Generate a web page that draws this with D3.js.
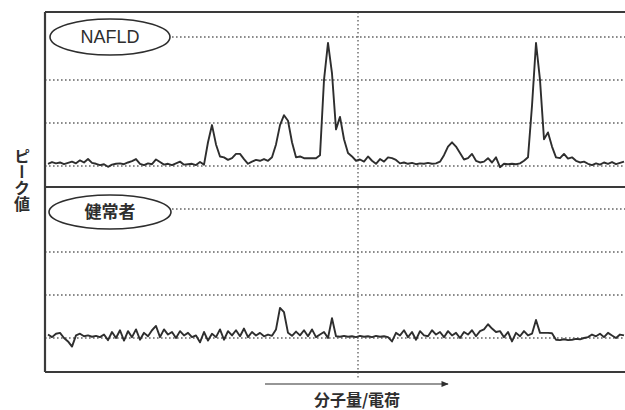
<!DOCTYPE html>
<html>
<head>
<meta charset="utf-8">
<script src="https://cdn.jsdelivr.net/npm/d3@7"></script>
<style>
  body { margin: 0; background: #fff; }
  svg { display: block; font-family: "Liberation Sans", "Noto Sans CJK JP", sans-serif; }
</style>
</head>
<body>
<svg id="chart"></svg>
<script>
// peak values, one sample per step along m/z
const nafld = [
  0.05, 0.09, 0.06, 0.08, 0.04, 0.07, 0.10, 0.06, 0.13, 0.08,
  0.16, 0.07, 0.05, 0.02, 0.04, -0.02, 0.03, 0.05, 0.06, 0.04,
  0.08, 0.11, 0.16, 0.05, 0.02, 0.06, 0.04, 0.15, 0.09, 0.03,
  0.05, 0.02, 0.06, 0.10, 0.03, 0.04, 0.05, 0.02, 0.09, 0.03,
  0.55, 0.95, 0.50, 0.22, 0.20, 0.14, 0.18, 0.28, 0.28, 0.16,
  0.05, 0.10, 0.14, 0.12, 0.16, 0.12, 0.20, 0.50, 0.95, 1.18,
  1.05, 0.55, 0.20, 0.22, 0.18, 0.18, 0.18, 0.18, 0.25, 2.00,
  2.86, 2.15, 0.85, 1.14, 0.62, 0.30, 0.22, 0.12, 0.15, 0.10,
  0.22, 0.12, 0.05, 0.16, 0.10, 0.20, 0.18, 0.14, 0.06, 0.08,
  0.05, 0.07, 0.04, 0.06, 0.05, 0.07, 0.05, 0.06, 0.10, 0.25,
  0.45, 0.55, 0.45, 0.30, 0.15, 0.18, 0.28, 0.12, 0.08, 0.10,
  0.18, 0.08, 0.20, -0.03, 0.05, 0.04, 0.05, 0.04, 0.06, 0.12,
  0.20, 1.40, 2.86, 2.00, 0.62, 0.78, 0.45, 0.20, 0.18, 0.28,
  0.17, 0.20, 0.12, 0.08, 0.10, 0.05, 0.02, 0.06, 0.03, 0.08,
  0.05, 0.09, 0.04, 0.07, 0.10
];

const healthy = [
  0.08, 0.02, 0.10, 0.12, 0.00, -0.08, -0.20, 0.06, 0.10, 0.04,
  0.06, 0.03, 0.05, 0.02, 0.08, -0.05, 0.14, 0.00, 0.18, -0.06,
  0.16, 0.02, 0.20, -0.04, 0.12, 0.04, 0.18, 0.28, 0.02, 0.20,
  0.08, 0.14, 0.00, 0.16, 0.06, 0.12, 0.02, 0.06, -0.10, 0.14,
  -0.06, 0.10, 0.02, 0.20, -0.04, 0.16, 0.06, 0.18, 0.04, 0.22,
  0.02, 0.14, 0.06, 0.12, 0.04, 0.08, 0.05, 0.20, 0.70, 0.60,
  0.12, 0.05, 0.15, 0.06, 0.18, 0.04, 0.20, 0.02, 0.08, 0.14,
  0.00, 0.46, 0.04, 0.03, 0.05, 0.03, 0.04, 0.02, 0.05, 0.03,
  0.04, 0.02, 0.05, 0.03, 0.04, 0.02, -0.08, 0.12, 0.06, 0.18,
  0.02, 0.14, -0.04, 0.16, 0.06, 0.04, 0.18, 0.08, 0.14, 0.02,
  0.16, 0.06, 0.12, 0.00, 0.14, 0.08, 0.18, 0.04, 0.16, 0.20,
  0.32, 0.22, 0.14, 0.16, 0.02, 0.14, -0.08, 0.12, 0.04, 0.16,
  0.06, 0.10, 0.42, 0.12, 0.12, 0.12, 0.11, -0.04, -0.05, -0.03,
  -0.05, -0.04, -0.02, -0.03, 0.00, 0.02, 0.08, 0.04, 0.10, 0.02,
  0.12, 0.06, 0.00, 0.08, 0.06
];

const gridLevels = [0, 1, 2, 3];
const panelLabels = ["NAFLD", "健常者"];
const yLabel = "ピーク値";
const xLabel = "分子量/電荷";

const width = 625, height = 410;
const svg = d3.select("#chart").attr("width", width).attr("height", height);

const frame = { left: 45, right: 625, top: 12, mid: 187, bottom: 372 };
const ink = "#2e2e2e";

const x = d3.scaleLinear().domain([0, nafld.length - 1]).range([48, 624]);
const yTop = d3.scaleLinear().domain([-0.49, 3.58]).range([frame.mid, frame.top]);
const yBot = d3.scaleLinear().domain([-0.79, 3.51]).range([frame.bottom, frame.mid]);

const panels = [
  { data: nafld, y: yTop, label: panelLabels[0], cy: 37, rx: 60, ry: 18, fontSize: 18 },
  { data: healthy, y: yBot, label: panelLabels[1], cy: 212, rx: 61, ry: 17, fontSize: 17 }
];

// dotted grid
panels.forEach((p) => {
  svg.append("g")
    .selectAll("line")
    .data(gridLevels)
    .join("line")
    .attr("x1", (d) => (d === 3 ? 172 : frame.left))
    .attr("x2", frame.right)
    .attr("y1", (d) => p.y(d))
    .attr("y2", (d) => p.y(d))
    .attr("stroke", "#666")
    .attr("stroke-width", 1.4)
    .attr("stroke-dasharray", "1.6,2.4");
});

svg.append("line")
  .attr("x1", 358).attr("x2", 358)
  .attr("y1", frame.top).attr("y2", 380)
  .attr("stroke", "#666")
  .attr("stroke-width", 1.4)
  .attr("stroke-dasharray", "1.6,2.4");

// frame lines
[frame.top, frame.mid, frame.bottom].forEach((yy) => {
  svg.append("line")
    .attr("x1", frame.left).attr("x2", frame.right)
    .attr("y1", yy).attr("y2", yy)
    .attr("stroke", "#3a3a3a").attr("stroke-width", 2.2);
});
svg.append("line")
  .attr("x1", frame.left).attr("x2", frame.left)
  .attr("y1", frame.top).attr("y2", frame.bottom)
  .attr("stroke", "#3a3a3a").attr("stroke-width", 2.2);

// traces
panels.forEach((p) => {
  const line = d3.line()
    .x((d, i) => x(i))
    .y((d) => p.y(d));
  svg.append("path")
    .datum(p.data)
    .attr("fill", "none")
    .attr("stroke", ink)
    .attr("stroke-width", 1.9)
    .attr("stroke-linejoin", "round")
    .attr("d", line);
});

// ellipse labels
panels.forEach((p) => {
  svg.append("ellipse")
    .attr("cx", 110).attr("cy", p.cy)
    .attr("rx", p.rx).attr("ry", p.ry)
    .attr("fill", "#fff")
    .attr("stroke", ink)
    .attr("stroke-width", 1.6);
  svg.append("text")
    .attr("x", 110).attr("y", p.cy)
    .attr("dy", "0.36em")
    .attr("text-anchor", "middle")
    .attr("font-size", p.fontSize)
    .attr("font-weight", p.label === "NAFLD" ? "normal" : "bold")
    .attr("font-family", p.label === "NAFLD" ? "Liberation Sans, Arial, sans-serif" : "Noto Sans CJK JP, sans-serif")
    .attr("fill", ink)
    .text(p.label);
});

// y label, vertical
svg.append("text")
  .attr("x", 22).attr("y", 148)
  .attr("writing-mode", "vertical-rl")
  .attr("font-family", "Noto Sans CJK JP, sans-serif")
  .attr("font-size", 16)
  .attr("font-weight", "bold")
  .attr("fill", ink)
  .text(yLabel);

// x arrow and label
const defs = svg.append("defs");
defs.append("marker")
  .attr("id", "arrow")
  .attr("viewBox", "0 0 10 10")
  .attr("refX", 9).attr("refY", 5)
  .attr("markerWidth", 8).attr("markerHeight", 6)
  .attr("orient", "auto")
  .append("path")
  .attr("d", "M0,1 L10,5 L0,9 Z")
  .attr("fill", ink);

svg.append("line")
  .attr("x1", 265).attr("x2", 448)
  .attr("y1", 384).attr("y2", 384)
  .attr("stroke", ink)
  .attr("stroke-width", 1.2)
  .attr("marker-end", "url(#arrow)");

svg.append("text")
  .attr("x", 357).attr("y", 406)
  .attr("text-anchor", "middle")
  .attr("font-family", "Noto Sans CJK JP, sans-serif")
  .attr("font-size", 16)
  .attr("font-weight", "bold")
  .attr("fill", ink)
  .text(xLabel);
</script>
</body>
</html>
